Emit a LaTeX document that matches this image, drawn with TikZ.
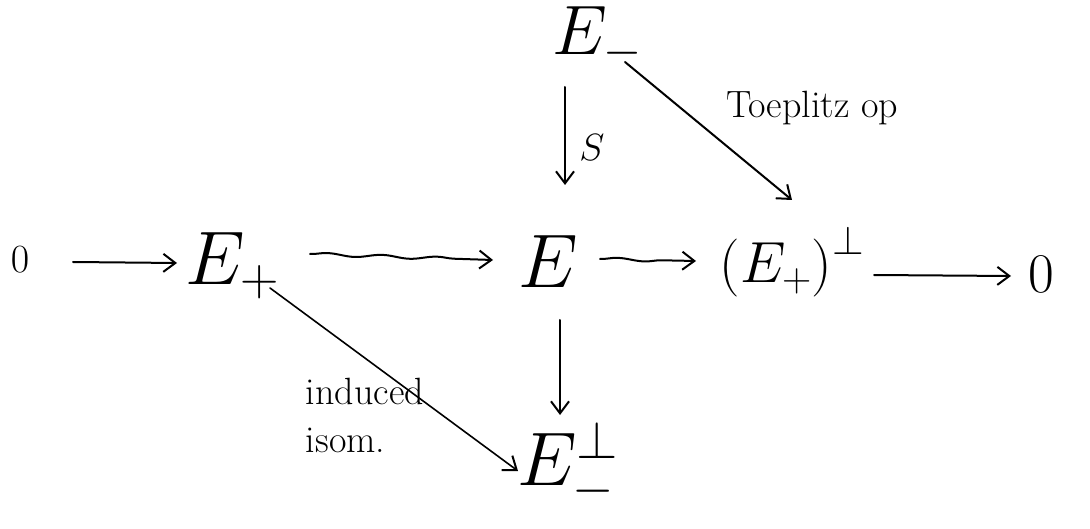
\RequirePackage{fix-cm}
\documentclass[tikz,border=0pt]{standalone}
\usetikzlibrary{arrows.meta,decorations.pathmorphing,calc}
\begin{document}
\begin{tikzpicture}[x=1pt,y=-1pt,
  obj/.style={font=\fontsize{76}{90}\selectfont, inner sep=0pt},
  lbl/.style={font=\fontsize{38}{48}\selectfont, inner sep=0pt, align=left},
  arr/.style={line width=2pt, line cap=round, -{Straight Barb[length=12pt,width=18pt,line width=2pt]}},
  wavy/.style={arr, decorate, decoration={snake, amplitude=1.5pt, segment length=55pt, post length=12pt}}]
\useasboundingbox (0,0) rectangle (1090,529);
% objects of the diagram
\node[inner sep=0pt, font=\fontsize{40}{46}\selectfont] (L0) at (20,260) {$0$};
\node[obj] (Ep) at (232,266) {$E_+$};
\node[obj] (E) at (548,262) {$E$};
\node[obj, font=\fontsize{58}{70}\selectfont] (Q) at (792,262) {$\bigl(E_+\bigr)^{\perp}$};
\node[inner sep=0pt, font=\fontsize{56}{66}\selectfont] (R0) at (1041,274) {$0$};
\node[obj, font=\fontsize{70}{84}\selectfont] (Em) at (597,38) {$E_-$};
\node[obj] (Emp) at (568,465) {$E_-^{\perp}$};
% labels
\node[lbl] (S) at (592,148) {$S$};
\node[lbl] (T) at (812,108) {Toeplitz op};
\node[lbl] (I) at (365,415) {induced\\isom.};
% exact row
\draw[arr] ($(L0)+(53,2)$) -- ($(Ep)+(-55,-3)$);
\draw[wavy] ($(Ep)+(78,-12)$) -- ($(E)+(-55,-2)$);
\draw[wavy] ($(E)+(52,-3)$) -- ($(Q)+(-96,-1)$);
\draw[arr] ($(Q)+(82,13)$) -- ($(R0)+(-30,2)$);
% vertical maps
\draw[arr] ($(Em)+(-32,49)$) -- ($(E)+(17,-77)$);
\draw[arr] ($(E)+(12,58)$) -- ($(Emp)+(-8,-50)$);
% diagonal maps
\draw[arr] ($(Em)+(28,24)$) -- ($(Q)+(0,-62)$);
\draw[arr, line width=1.6pt] ($(Ep)+(38,22)$) -- ($(Emp)+(-50,6)$);
\end{tikzpicture}
\end{document}
